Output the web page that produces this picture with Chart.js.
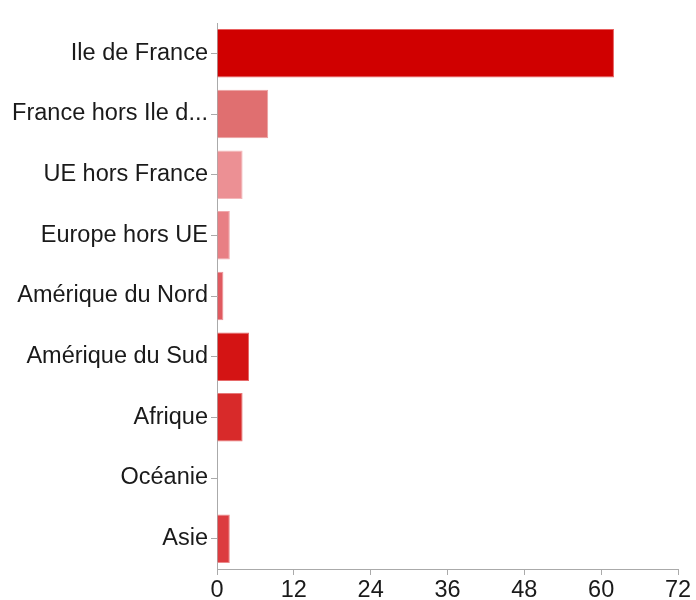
<!DOCTYPE html>
<html>
<head>
<meta charset="utf-8">
<script src="https://cdn.jsdelivr.net/npm/chart.js@4/dist/chart.umd.min.js"></script>
<style>
html,body{margin:0;padding:0;background:#fff;}
#wrap{width:696px;height:600px;position:relative;}
</style>
</head>
<body>
<div id="wrap"><canvas id="c" width="696" height="600"></canvas></div>
<script>
const categories = ["Ile de France","France hors Ile d...","UE hors France","Europe hors UE","Amérique du Nord","Amérique du Sud","Afrique","Océanie","Asie"];
const values = [62, 8, 4, 2, 1, 5, 4, 0, 2];
const barColors = ["#d00000","#e06f70","#ec9094","#e87f84","#e05a60","#d41414","#d82a2a","#dc3c40","#dc3c40"];
const borderColors = ["#e86060","#eca0a0","#f4b8ba","#f0a8ab","#ec9498","#e66a6a","#e87878","#ea8a8c","#ea8a8c"];
const xTicks = [0, 12, 24, 36, 48, 60, 72];

const FONT = "'Liberation Sans', Arial, Helvetica, sans-serif";
new Chart(document.getElementById('c'), {
  type: 'bar',
  data: {
    labels: categories,
    datasets: [{
      data: values,
      backgroundColor: barColors,
      borderColor: borderColors,
      borderWidth: 1,
      barPercentage: 0.8,
      categoryPercentage: 1.0
    }]
  },
  options: {
    indexAxis: 'y',
    responsive: false,
    animation: false,
    devicePixelRatio: 1,
    layout: { padding: { top: 23, right: 18, bottom: 0, left: 0 } },
    plugins: { legend: { display: false }, tooltip: { enabled: false }, title: { display: false } },
    scales: {
      x: {
        min: xTicks[0], max: xTicks[xTicks.length - 1],
        afterBuildTicks: (s) => { s.ticks = xTicks.map(v => ({ value: v })); },
        grid: { drawOnChartArea: false, tickLength: 6, color: '#aaaaaa' },
        border: { color: '#aaaaaa' },
        ticks: { padding: 1, color: '#1a1a1a', font: { family: FONT, size: 23.5 } },
        afterFit: (s) => { s.height = 31; }
      },
      y: {
        grid: { drawOnChartArea: false, offset: false, tickLength: 6, color: '#aaaaaa' },
        border: { color: '#aaaaaa' },
        ticks: { padding: 3, color: '#1a1a1a', font: { family: FONT, size: 23.5 } },
        afterFit: (s) => { s.width = 217; }
      }
    }
  }
});
</script>
</body>
</html>
